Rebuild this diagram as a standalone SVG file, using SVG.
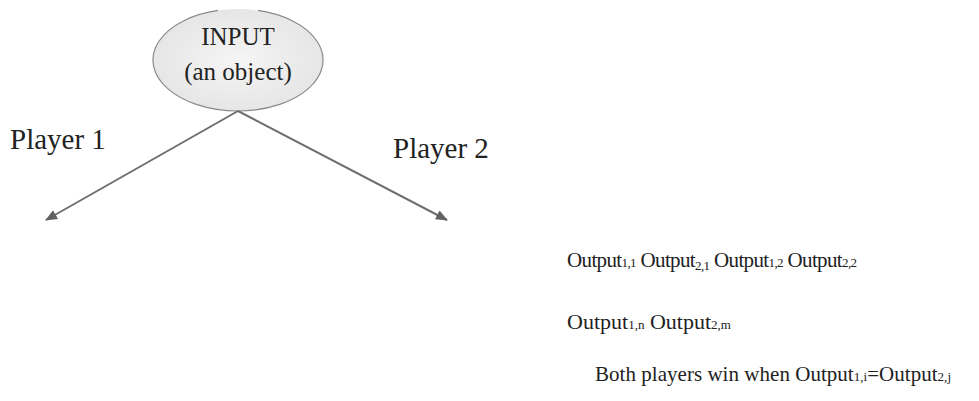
<svg xmlns="http://www.w3.org/2000/svg" width="979" height="401" viewBox="0 0 979 401">
<defs>
<radialGradient id="g" cx="0.5" cy="0.5" r="0.6">
<stop offset="0" stop-color="#f5f5f5"/>
<stop offset="1" stop-color="#e3e3e3"/>
</radialGradient>
<marker id="ah" viewBox="0 0 12 10" refX="11" refY="5" markerWidth="12" markerHeight="10" markerUnits="userSpaceOnUse" orient="auto">
<path d="M0,0 L12,5 L0,10 Z" fill="#616161"/>
</marker>
</defs>
<style>
text{font-family:"Liberation Serif","Times New Roman",serif;fill:#222}
.p{font-size:29px}
.n{font-size:25px}
.t{font-size:21px}
.s{font-size:13px}
.c{stroke:#6e6e6e;stroke-width:2;fill:none}
</style>
<rect width="979" height="401" fill="#fff"/>
<g id="input">
<ellipse cx="238" cy="60" rx="85" ry="51" fill="url(#g)"/>
<path d="M218,10.43 A85,51 0 1,0 258,10.43" fill="none" stroke="#8a8a8a" stroke-width="1.2"/>
<text class="n" x="238" y="45" text-anchor="middle">INPUT</text>
<text class="n" x="238" y="80" text-anchor="middle">(an object)</text>
</g>
<g id="connectors">
<line class="c" x1="238" y1="111" x2="46" y2="220" marker-end="url(#ah)"/>
<line class="c" x1="238" y1="111" x2="447" y2="220" marker-end="url(#ah)"/>
</g>
<g id="labels">
<text class="p" x="10" y="149">Player 1</text>
<text class="p" x="393" y="158">Player 2</text>
</g>
<g id="outputs">
<text class="t" x="567" y="267" textLength="290" lengthAdjust="spacing">Output<tspan class="s">1,1</tspan> Output<tspan class="s" dy="3">2,1</tspan><tspan dy="-3"> Output</tspan><tspan class="s">1,2</tspan> Output<tspan class="s">2,2</tspan></text>
<text class="t" x="567" y="329" style="font-size:22px">Output<tspan class="s">1,n</tspan> Output<tspan class="s">2,m</tspan></text>
<text class="t" x="595" y="381" textLength="356" lengthAdjust="spacing">Both players win when Output<tspan class="s">1,i</tspan>=Output<tspan class="s">2,j</tspan></text>
</g>
</svg>
